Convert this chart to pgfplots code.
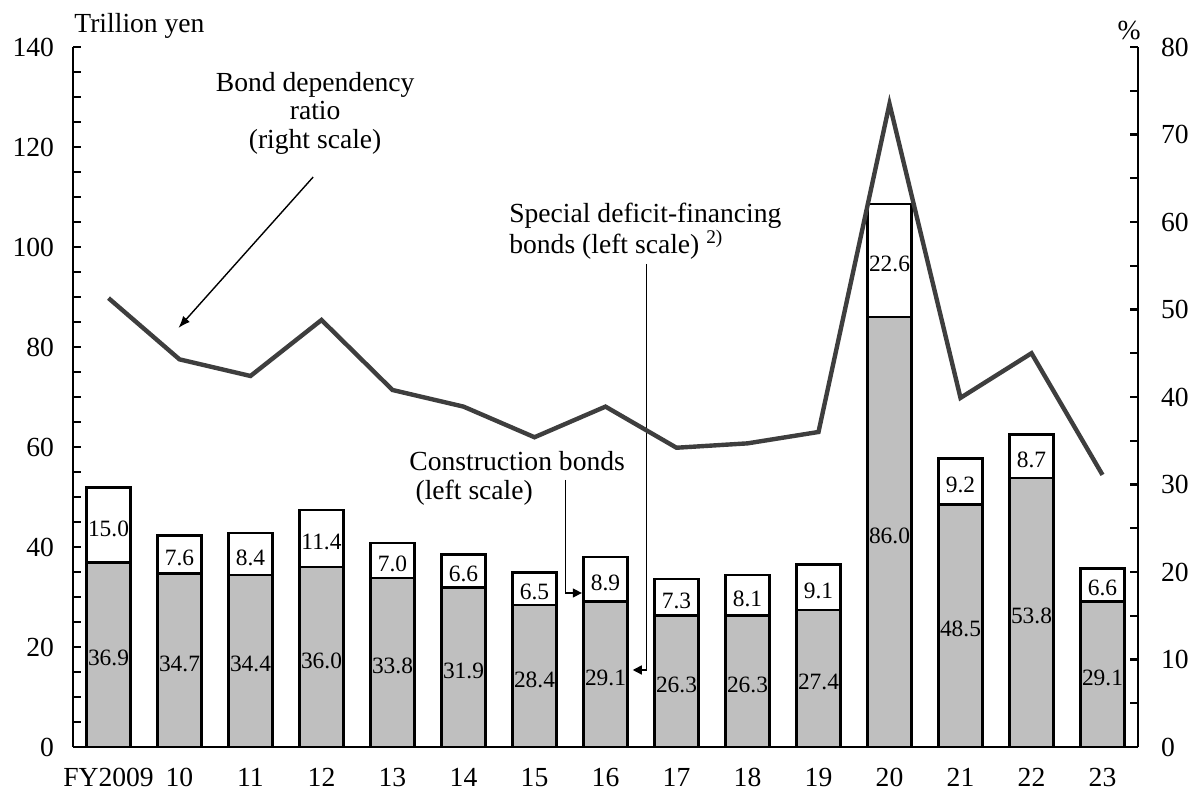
\documentclass[border=0pt]{standalone}
\usepackage{fontspec}
\setmainfont{Liberation Serif}
\usepackage{pgfplots}
\usepackage{pgfplotstable}
\pgfplotsset{compat=1.18}
\usetikzlibrary{arrows.meta}

\definecolor{bargray}{RGB}{191,191,191}
\definecolor{linegray}{RGB}{62,62,62}

% spec = special deficit-financing bonds, cons = construction bonds,
% ratio = bond dependency ratio (%), smid/cmid = label heights
\pgfplotstableread{
x spec cons total ratio smid cmid
0  36.9 15.0 51.9  51.3 18.45 44.4
1  34.7 7.6  42.3  44.3 17.35 38.5
2  34.4 8.4  42.8  42.4 17.2  38.6
3  36.0 11.4 47.4  48.8 18.0  41.7
4  33.8 7.0  40.8  40.8 16.9  37.3
5  31.9 6.6  38.5  38.9 15.95 35.2
6  28.4 6.5  34.9  35.4 14.2  31.65
7  29.1 8.9  38.0  38.9 14.55 33.55
8  26.3 7.3  33.6  34.2 13.15 29.95
9  26.3 8.1  34.4  34.7 13.15 30.35
10 27.4 9.1  36.5  36.0 13.7  31.95
11 86.0 22.6 108.6 73.5 43.0  97.3
12 48.5 9.2  57.7  39.9 24.25 53.1
13 53.8 8.7  62.5  45.0 26.9  58.15
14 29.1 6.6  35.7  31.1 14.55 32.4
}\bonds

\newcommand{\bigfont}{\fontsize{13.8}{16}\selectfont}
\newcommand{\smallfont}{\fontsize{11.7}{13}\selectfont}

\begin{document}
\begin{tikzpicture}
\useasboundingbox (-36.5pt,-24.5pt) rectangle (563.5pt,373.5pt);
\pgfplotsset{
  base/.style={
    scale only axis, width=532.5pt, height=350pt,
    xmin=-0.5, xmax=14.5,
    ticklabel style={font=\bigfont},
    /pgf/number format/assume math mode=true,
    clip=false,
  },
  plain lines/.style={
    tick align=inside,
    major tick length=4pt, minor tick length=4pt,
    tick style={line width=1.2pt, black},
    axis line style={line width=1.3pt, black, -},
    x axis line style={-}, y axis line style={-},
    every outer x axis line/.append style={-},
    every outer y axis line/.append style={-},
    every inner x axis line/.append style={-},
    every inner y axis line/.append style={-},
  },
  barlabel/.style={
    draw=none, nodes near coords, point meta=explicit symbolic,
    every node near coord/.append style={font=\smallfont, anchor=center, yshift=-1.7pt, inner sep=0pt},
  },
}
\begin{axis}[base,
  axis x line=bottom, axis y line=left, plain lines,
  ymin=0, ymax=140, ytick={0,20,...,140}, minor y tick num=3,
  xtick={0,...,14},
  xticklabels={FY2009,10,11,12,13,14,15,16,17,18,19,20,21,22,23},
  xtick style={draw=none},
  yticklabel style={xshift=-6pt},
  xticklabel style={yshift=-7pt},
]
  \addplot[ybar, bar shift=0pt, bar width=22pt, fill=white, draw=black, line width=1.25pt]
    table[x=x, y=total]{\bonds};
  \addplot[ybar, bar shift=0pt, bar width=22pt, fill=bargray, draw=black, line width=1.25pt]
    table[x=x, y=spec]{\bonds};
  \addplot[barlabel] table[x=x, y=smid, meta=spec]{\bonds};
  \addplot[barlabel] table[x=x, y=cmid, meta=cons]{\bonds};

  \node[font=\bigfont, anchor=base west, inner sep=0pt, xshift=0.5pt, yshift=7pt] at (rel axis cs:0,1) {Trillion yen};

  % bond dependency ratio annotation
  \node[font=\bigfont, anchor=base, inner sep=0pt] at (axis cs:2.91,131) {Bond dependency};
  \node[font=\bigfont, anchor=base, inner sep=0pt] at (axis cs:2.91,125.4) {ratio};
  \node[font=\bigfont, anchor=base, inner sep=0pt] at (axis cs:2.91,119.6) {(right scale)};
  \draw[line width=0.7pt, -{Latex[length=6pt,width=4.5pt]}] (axis cs:2.883,114) -- (axis cs:0.985,83.8);

  % special deficit-financing bonds annotation
  \node[font=\bigfont, anchor=base west, inner sep=0pt] at (axis cs:5.64,104.8) {Special deficit-financing};
  \node[font=\bigfont, anchor=base west, inner sep=0pt] at (axis cs:5.64,98.6) {bonds (left scale) \textsuperscript{2)}};
  \draw[line width=0.7pt, -{Triangle[length=4.5pt,width=4.5pt]}] (axis cs:7.581,96.6) |- (axis cs:7.384,15.4);

  % construction bonds annotation
  \node[font=\bigfont, anchor=base west, inner sep=0pt] at (axis cs:4.233,55.2) {Construction bonds};
  \node[font=\bigfont, anchor=base west, inner sep=0pt] at (axis cs:4.32,49.4) {(left scale)};
  \draw[line width=0.7pt, -{Triangle[length=4.5pt,width=4.5pt]}] (axis cs:6.44,53.4) |- (axis cs:6.667,30.8);
\end{axis}

\begin{axis}[base,
  axis y line=right, axis x line=none, plain lines,
  ymin=0, ymax=80, ytick={0,10,...,80}, minor y tick num=1,
  yticklabel style={xshift=8pt},
]
  \addplot[linegray, line width=2.2pt] table[x=x, y=ratio]{\bonds};
  \node[font=\bigfont, anchor=base east, inner sep=0pt, xshift=1.5pt, yshift=3.5pt] at (rel axis cs:1,1) {\%};
\end{axis}
\end{tikzpicture}
\end{document}
